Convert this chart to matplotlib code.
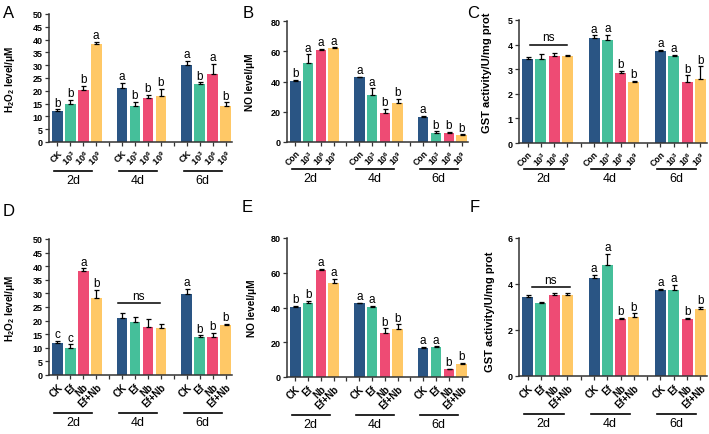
import numpy as np
import matplotlib.pyplot as plt

plt.rcParams['font.family'] = 'Liberation Sans'
plt.rcParams['mathtext.fontset'] = 'custom'
plt.rcParams['mathtext.rm'] = 'Liberation Sans'
plt.rcParams['mathtext.bf'] = 'Liberation Sans:bold'
plt.rcParams['mathtext.it'] = 'Liberation Sans:italic'

colors = ['#2A5584', '#45BF9A', '#EE4B74', '#FFC866']
days = ['2d', '4d', '6d']

dose_ck = ['CK', r'$\mathbf{10^3}$', r'$\mathbf{10^6}$', r'$\mathbf{10^9}$']
dose_con = ['Con', r'$\mathbf{10^3}$', r'$\mathbf{10^6}$', r'$\mathbf{10^9}$']
comb_labels = ['CK', 'Ef', 'Nb', 'Ef+Nb']

# A: H2O2, dose
h2o2_dose = [12.0, 14.7, 20.2, 38.3, 21.2, 14.0, 17.0, 18.0, 29.9, 22.8, 26.5, 14.0]
h2o2_dose_err = [0.7, 1.8, 1.8, 0.7, 1.8, 1.8, 1.3, 2.7, 1.9, 0.5, 4.0, 1.5]
h2o2_dose_sig = ['b', 'b', 'b', 'a', 'a', 'b', 'b', 'b', 'a', 'b', 'a', 'b']
# B: NO, dose
no_dose = [40.3, 52.0, 60.8, 62.0, 42.8, 30.8, 19.5, 25.6, 16.5, 6.0, 6.0, 4.5]
no_dose_err = [0.7, 6.0, 0.7, 0.5, 0.3, 4.7, 2.3, 2.9, 1.0, 1.0, 0.5, 0.5]
no_dose_sig = ['b', 'a', 'a', 'a', 'a', 'a', 'b', 'b', 'a', 'b', 'b', 'b']
# C: GST, dose
gst_dose = [3.43, 3.43, 3.55, 3.52, 4.27, 4.20, 2.83, 2.48, 3.72, 3.55, 2.50, 2.62]
gst_dose_err = [0.07, 0.17, 0.10, 0.06, 0.11, 0.20, 0.10, 0.04, 0.08, 0.02, 0.25, 0.50]
gst_dose_sig = ['', '', '', '', 'a', 'a', 'b', 'b', 'a', 'a', 'b', 'b']
# D: H2O2, combination
h2o2_comb = [11.8, 9.9, 38.2, 28.2, 21.1, 19.6, 17.8, 17.4, 29.8, 14.1, 13.9, 18.4]
h2o2_comb_err = [0.7, 1.4, 1.0, 3.1, 1.7, 1.9, 2.9, 1.4, 1.8, 0.5, 1.6, 0.4]
h2o2_comb_sig = ['c', 'c', 'a', 'b', '', '', '', '', 'a', 'b', 'b', 'b']
# E: NO, combination
no_comb = [40.2, 42.6, 61.8, 54.0, 42.5, 40.2, 25.3, 27.8, 16.5, 17.5, 4.5, 7.2]
no_comb_err = [0.6, 1.4, 0.5, 2.3, 0.2, 0.8, 2.7, 2.5, 0.8, 0.2, 0.2, 0.8]
no_comb_sig = ['b', 'b', 'a', 'a', 'a', 'a', 'b', 'b', 'a', 'a', 'b', 'b']
# F: GST, combination
gst_comb = [3.45, 3.18, 3.53, 3.53, 4.27, 4.82, 2.50, 2.58, 3.72, 3.73, 2.50, 2.93]
gst_comb_err = [0.08, 0.05, 0.07, 0.07, 0.13, 0.48, 0.02, 0.15, 0.08, 0.24, 0.02, 0.07]
gst_comb_sig = ['', '', '', '', 'a', 'a', 'b', 'b', 'a', 'a', 'b', 'b']

h2o2_label = r'$\mathbf{H_2O_2}$ level/μM'
no_label = 'NO level/μM'
gst_label = 'GST activity/U/mg prot'

W, H = 709, 435
fig = plt.figure(figsize=(W / 100, H / 100), dpi=100)


def panel(box, letter, lpos, means, errs, sigs, ticklabels, tsize, ymax, ystep, ylabel,
          lab_x, lab_size, lab_y=0.5, line_off=28, ns=None):
    l, t, r, b = box
    ax = fig.add_axes([l / W, 1 - b / H, (r - l) / W, (b - t) / H])
    hpx = b - t
    x = np.array([g * 5 + i for g in range(3) for i in range(4)])
    cols = colors * 3
    ax.bar(x, means, width=0.82, color=cols, zorder=2)
    ax.errorbar(x, means, yerr=[np.zeros(len(errs)), errs], fmt='none',
                ecolor='black', elinewidth=0.9, capsize=1.8, capthick=0.9, zorder=3)
    for xi, m, e, s in zip(x, means, errs, sigs):
        if s:
            ax.annotate(s, (xi, m + e), xytext=(0, 0.5), textcoords='offset points',
                        ha='center', va='bottom', fontsize=8.5)
    ax.set_xlim(-0.65, 13.5)
    ax.set_ylim(0, ymax)
    ax.set_yticks(np.arange(0, ymax + ystep / 2, ystep))
    ax.set_xticks(x)
    ax.set_xticks([4, 9], minor=True)
    ax.set_xticklabels(ticklabels * 3, rotation=45, ha='right', rotation_mode='anchor',
                       fontsize=tsize, fontweight='bold')
    ax.tick_params(axis='x', which='both', length=3, width=0.9, pad=1.5, color='#333333')
    ax.tick_params(axis='y', length=3, width=0.9, pad=1.5, labelsize=6.5, color='#333333')
    for lab in ax.get_yticklabels():
        lab.set_fontweight('bold')
    for sp in ['top', 'right']:
        ax.spines[sp].set_visible(False)
    for sp in ['left', 'bottom']:
        ax.spines[sp].set_linewidth(1.1)
        ax.spines[sp].set_color('#333333')
    ax.set_ylabel(ylabel, fontsize=lab_size, fontweight='bold')
    ax.yaxis.set_label_coords((lab_x - l) / (r - l), lab_y)
    ly = -line_off / hpx
    ty = -(line_off + 3) / hpx
    for g, d in enumerate(days):
        ax.plot([g * 5 - 0.25, g * 5 + 2.7], [ly, ly], color='black', lw=1.2,
                transform=ax.get_xaxis_transform(), clip_on=False)
        ax.text(g * 5 + 1.2, ty, d, transform=ax.get_xaxis_transform(),
                ha='center', va='top', fontsize=9)
    if ns is not None:
        g, yv, x0, x1 = ns
        ax.plot([g * 5 + x0, g * 5 + x1], [yv, yv], color='black', lw=1.1)
        ax.annotate('ns', (g * 5 + (x0 + x1) / 2, yv), xytext=(0, 1),
                    textcoords='offset points', ha='center', va='bottom', fontsize=8.5)
    fig.text(lpos[0] / W, 1 - lpos[1] / H, letter, fontsize=12, ha='left', va='center')
    return ax


panel((49, 15, 232, 143), 'A', (3, 14), h2o2_dose, h2o2_dose_err, h2o2_dose_sig, dose_ck,
      6.5, 50, 5, h2o2_label, 17, 7.2, line_off=29)
panel((287, 22, 468, 143), 'B', (243, 14), no_dose, no_dose_err, no_dose_sig, dose_con,
      6.2, 80, 20, no_label, 255, 7.2, line_off=27)
panel((519, 21, 707, 144), 'C', (467, 14), gst_dose, gst_dose_err, gst_dose_sig, dose_con,
      6.2, 5, 1, gst_label, 492, 8, lab_y=0.577, line_off=26, ns=(0, 4.0, 0.2, 3.0))
panel((49, 240, 232, 376), 'D', (3, 212), h2o2_comb, h2o2_comb_err, h2o2_comb_sig,
      comb_labels, 7, 50, 5, h2o2_label, 17, 7.2, line_off=38, ns=(1, 26.5, -0.3, 2.9))
panel((287, 239, 468, 378), 'E', (242, 208), no_comb, no_comb_err, no_comb_sig,
      comb_labels, 7, 80, 20, no_label, 257, 7.2, line_off=38)
panel((519, 239, 707, 377), 'F', (470, 208), gst_comb, gst_comb_err, gst_comb_sig,
      comb_labels, 7, 6, 2, gst_label, 495, 8, lab_y=0.47, line_off=38, ns=(0, 3.87, 0.3, 3.2))

fig.savefig('out.png', dpi=100)
